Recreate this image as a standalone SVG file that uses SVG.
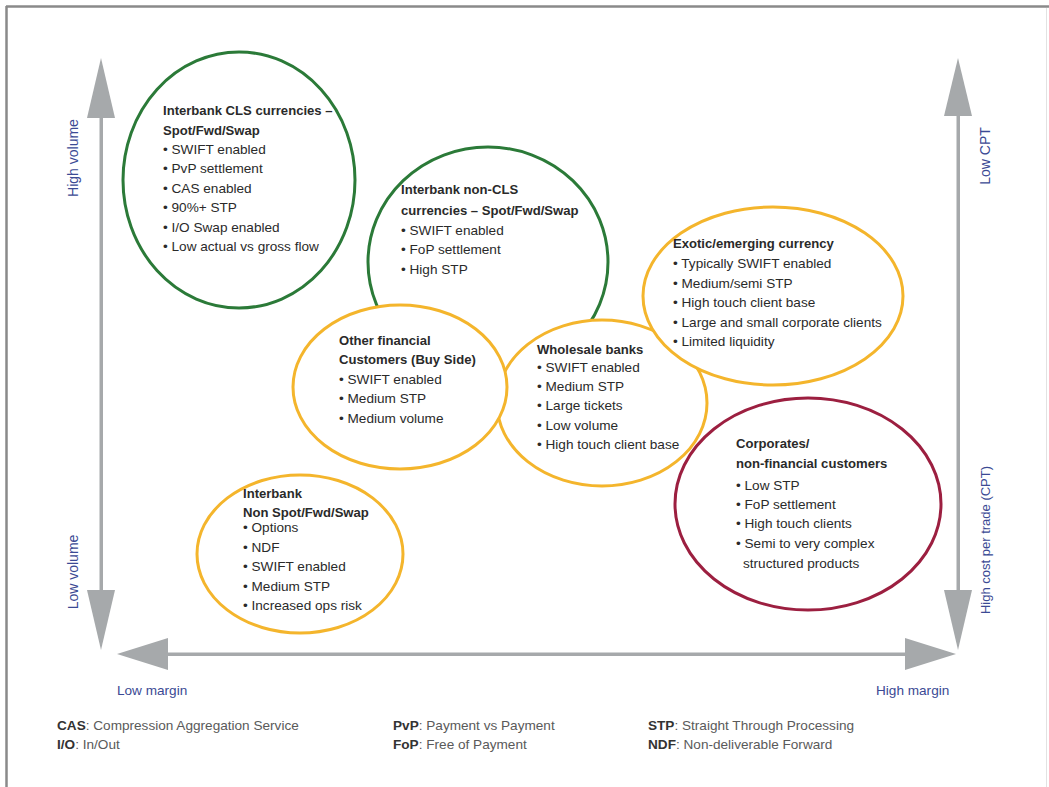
<svg xmlns="http://www.w3.org/2000/svg" width="1049" height="787" viewBox="0 0 1049 787">
<style>
.t{font-family:"Liberation Sans",Arial,sans-serif;font-size:13.6px;fill:#2a2a2a}
.b{font-weight:bold;font-size:13.1px}
.ax{font-family:"Liberation Sans",Arial,sans-serif;font-size:14px;fill:#3b4a94}
.lg{font-family:"Liberation Sans",Arial,sans-serif;font-size:13.6px;fill:#5a5a5a}
.lg tspan.k{font-weight:bold;fill:#333}
.g{fill:#fff;stroke:#2b7a38;stroke-width:3}
.y{fill:#fff;stroke:#f4b52c;stroke-width:3}
.m{fill:#fff;stroke:#9c1f40;stroke-width:3}
.arr{fill:#a6a9ab}
</style>
<rect width="1049" height="787" fill="#fff"/>
<g id="frame">
<line x1="6" y1="6.5" x2="1049" y2="6.5" stroke="#8a8a8a" stroke-width="2.5"/>
<line x1="6.5" y1="6" x2="6.5" y2="787" stroke="#8a8a8a" stroke-width="2.5"/>
<line x1="1046.5" y1="8" x2="1046.5" y2="787" stroke="#e2e2e2" stroke-width="1"/>
</g>
<g id="connectors">
<rect class="arr" x="99.5" y="110" width="3.5" height="490"/>
<polygon class="arr" points="101,58 87,118 115,118"/>
<polygon class="arr" points="101,650 87,590 115,590"/>
<rect class="arr" x="160" y="652.5" width="755" height="3.5"/>
<polygon class="arr" points="117,654 168,638 168,670"/>
<polygon class="arr" points="956,654 905,638 905,670"/>
<rect class="arr" x="956.5" y="110" width="3.5" height="490"/>
<polygon class="arr" points="958,58 944,116 972,116"/>
<polygon class="arr" points="958,650 944,590 972,590"/>
</g>
<g id="axis-labels">
<text class="ax" transform="translate(78,158) rotate(-90)" text-anchor="middle">High volume</text>
<text class="ax" transform="translate(78,572) rotate(-90)" text-anchor="middle">Low volume</text>
<text class="ax" transform="translate(990,156) rotate(-90)" text-anchor="middle">Low CPT</text>
<text class="ax" transform="translate(990,540) rotate(-90)" text-anchor="middle" style="font-size:13px">High cost per trade (CPT)</text>
<text class="ax" x="117" y="695" style="font-size:13.6px">Low margin</text>
<text class="ax" x="876" y="695" style="font-size:13.6px">High margin</text>
</g>
<g id="node-cls">
<ellipse class="g" cx="239" cy="180" rx="116" ry="128"/>
<text class="t"><tspan class="b" x="163" y="115">Interbank CLS currencies –</tspan><tspan class="b" x="163" y="135">Spot/Fwd/Swap</tspan><tspan x="163" y="154">• SWIFT enabled</tspan><tspan x="163" y="173">• PvP settlement</tspan><tspan x="163" y="193">• CAS enabled</tspan><tspan x="163" y="212">• 90%+ STP</tspan><tspan x="163" y="232">• I/O Swap enabled</tspan><tspan x="163" y="251">• Low actual vs gross flow</tspan></text>
</g>
<g id="node-noncls">
<ellipse class="g" cx="488" cy="262" rx="120" ry="115"/>
<text class="t"><tspan class="b" x="401" y="194">Interbank non-CLS</tspan><tspan class="b" x="401" y="215">currencies – Spot/Fwd/Swap</tspan><tspan x="401" y="235">• SWIFT enabled</tspan><tspan x="401" y="254">• FoP settlement</tspan><tspan x="401" y="274">• High STP</tspan></text>
</g>
<g id="node-wholesale">
<ellipse class="y" cx="602" cy="403" rx="105" ry="83"/>
<text class="t"><tspan class="b" x="537" y="354">Wholesale banks</tspan><tspan x="537" y="372">• SWIFT enabled</tspan><tspan x="537" y="391">• Medium STP</tspan><tspan x="537" y="410">• Large tickets</tspan><tspan x="537" y="430">• Low volume</tspan><tspan x="537" y="449">• High touch client base</tspan></text>
</g>
<g id="node-other">
<ellipse class="y" cx="400" cy="387" rx="107" ry="82"/>
<text class="t"><tspan class="b" x="339" y="345">Other financial</tspan><tspan class="b" x="339" y="364">Customers (Buy Side)</tspan><tspan x="339" y="384">• SWIFT enabled</tspan><tspan x="339" y="403">• Medium STP</tspan><tspan x="339" y="423">• Medium volume</tspan></text>
</g>
<g id="node-exotic">
<ellipse class="y" cx="773" cy="296" rx="130" ry="89"/>
<text class="t"><tspan class="b" x="673" y="248">Exotic/emerging currency</tspan><tspan x="673" y="268">• Typically SWIFT enabled</tspan><tspan x="673" y="288">• Medium/semi STP</tspan><tspan x="673" y="307">• High touch client base</tspan><tspan x="673" y="327">• Large and small corporate clients</tspan><tspan x="673" y="346">• Limited liquidity</tspan></text>
</g>
<g id="node-nonspot">
<ellipse class="y" cx="300" cy="554" rx="103" ry="79"/>
<text class="t"><tspan class="b" x="243" y="498">Interbank</tspan><tspan class="b" x="243" y="517">Non Spot/Fwd/Swap</tspan><tspan x="243" y="532">• Options</tspan><tspan x="243" y="552">• NDF</tspan><tspan x="243" y="571">• SWIFT enabled</tspan><tspan x="243" y="591">• Medium STP</tspan><tspan x="243" y="610">• Increased ops risk</tspan></text>
</g>
<g id="node-corporates">
<ellipse class="m" cx="808" cy="504" rx="133" ry="106"/>
<text class="t"><tspan class="b" x="736" y="448">Corporates/</tspan><tspan class="b" x="736" y="468">non-financial customers</tspan><tspan x="736" y="490">• Low STP</tspan><tspan x="736" y="509">• FoP settlement</tspan><tspan x="736" y="528">• High touch clients</tspan><tspan x="736" y="548">• Semi to very complex</tspan><tspan x="743" y="568">structured products</tspan></text>
</g>
<g id="legend">
<text class="lg" x="57" y="730"><tspan class="k">CAS</tspan>: Compression Aggregation Service</text>
<text class="lg" x="57" y="749"><tspan class="k">I/O</tspan>: In/Out</text>
<text class="lg" x="393" y="730"><tspan class="k">PvP</tspan>: Payment vs Payment</text>
<text class="lg" x="393" y="749"><tspan class="k">FoP</tspan>: Free of Payment</text>
<text class="lg" x="648" y="730"><tspan class="k">STP</tspan>: Straight Through Processing</text>
<text class="lg" x="648" y="749"><tspan class="k">NDF</tspan>: Non-deliverable Forward</text>
</g>
</svg>
